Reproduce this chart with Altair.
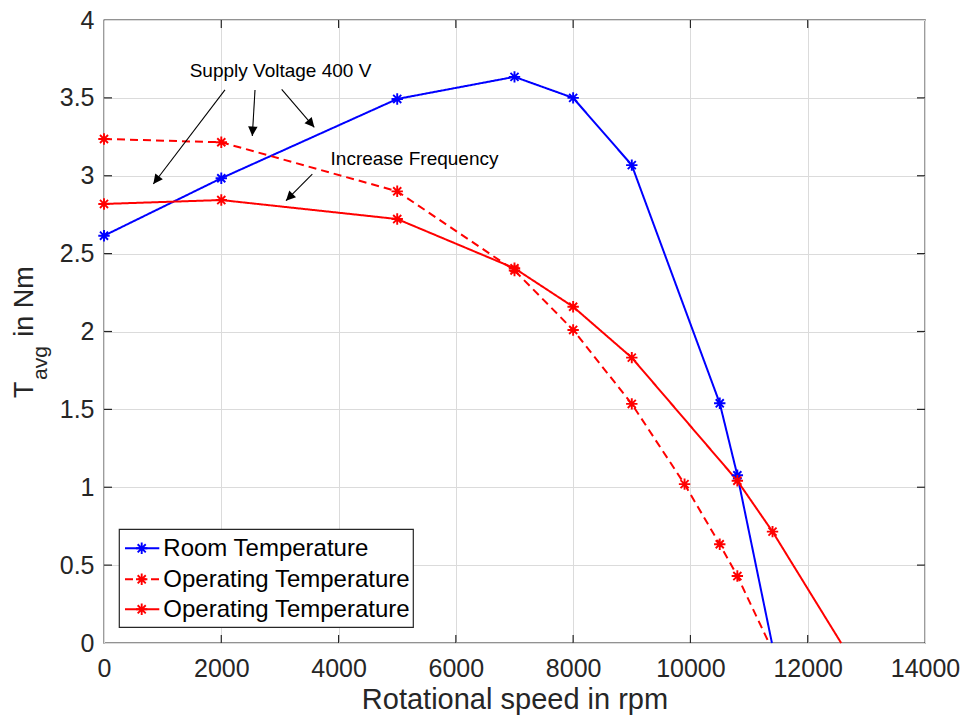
import altair as alt
import pandas as pd
import numpy as np

# ---------------- data ----------------
speed_room = [0, 2000, 5000, 7000, 8000, 9000, 10500, 10800, 11390]
torque_room = [2.615, 2.984, 3.493, 3.635, 3.500, 3.068, 1.539, 1.077, 0.0]

speed_op_dash = [0, 2000, 5000, 7000, 8000, 9000, 9900, 10500, 10800, 11340]
torque_op_dash = [3.236, 3.215, 2.900, 2.392, 2.010, 1.535, 1.020, 0.634, 0.430, 0.0]

speed_op = [0, 2000, 5000, 7000, 8000, 9000, 10800, 11400, 12570]
torque_op = [2.819, 2.844, 2.722, 2.406, 2.159, 1.832, 1.042, 0.715, 0.0]

series_keys = ["room", "op_dash", "op"]
series_labels = ["Room Temperature", "Operating Temperature", "Operating Temperature"]
series_colors = ["#0000ff", "#ff0000", "#ff0000"]

x_ticks = [0, 2000, 4000, 6000, 8000, 10000, 12000, 14000]
y_ticks = [0, 0.5, 1, 1.5, 2, 2.5, 3, 3.5, 4]

# annotations (data coordinates)
ann_text = ["Supply Voltage 400 V", "Increase Frequency"]
ann_x = [3010, 5295]
ann_y = [3.634, 3.069]

arrow_x = [2063, 2575, 3030, 3552]
arrow_y = [3.551, 3.551, 3.555, 3.011]
arrow_x2 = [841, 2529, 3586, 3103]
arrow_y2 = [2.947, 3.255, 3.311, 2.840]

# ---------------- layout ----------------
W, H = 821, 623
XMAX, YMAX = 14000, 4
FONT = "Liberation Sans"
AXC = "#262626"

STAR = "M-1,0L1,0M0,-1L0,1M-0.7071,-0.7071L0.7071,0.7071M-0.7071,0.7071L0.7071,-0.7071"
HEAD = "M0,0L-1,2L1,2Z"

frames = []
for k, xs, ys in zip(series_keys, [speed_room, speed_op_dash, speed_op],
                     [torque_room, torque_op_dash, torque_op]):
    frames.append(pd.DataFrame({"speed": xs, "torque": ys, "series": k}))
df = pd.concat(frames, ignore_index=True)

xscale = alt.Scale(domain=[0, XMAX], nice=False, zero=False)
yscale = alt.Scale(domain=[0, YMAX], nice=False, zero=False)

x_axis = alt.Axis(values=x_ticks, format="d", grid=True, gridColor="#dbdbdb", gridWidth=1,
                  domain=False, ticks=False, labelFont=FONT, labelFontSize=25,
                  labelColor=AXC, labelPadding=13, title="Rotational speed in rpm",
                  titleFont=FONT, titleFontSize=29, titleFontWeight="normal",
                  titleColor=AXC, titlePadding=4, labelFlush=False)
y_axis = alt.Axis(values=y_ticks, format=".1~f", grid=True, gridColor="#dbdbdb", gridWidth=1,
                  domain=False, ticks=False, labelFont=FONT, labelFontSize=25,
                  labelColor=AXC, labelPadding=10, title=None, labelFlush=False)

X = alt.X("speed:Q", scale=xscale, axis=x_axis)
Y = alt.Y("torque:Q", scale=yscale, axis=y_axis)

color = alt.Color("series:N", scale=alt.Scale(domain=series_keys, range=series_colors), legend=None)
dash = alt.StrokeDash("series:N", scale=alt.Scale(domain=series_keys, range=[[1, 0], [8, 5], [1, 0]]),
                      legend=None)

lines = alt.Chart(df).mark_line(strokeWidth=2).encode(x=X, y=Y, color=color, strokeDash=dash,
                                                       detail="series:N")
points = alt.Chart(df).transform_filter("datum.torque > 0").mark_point(
    shape=STAR, filled=False, size=130, strokeWidth=1.9, opacity=1
).encode(x=X, y=Y, color=color)

# inward ticks on all four sides
xt = pd.DataFrame({"speed": x_ticks[1:-1]})
yt = pd.DataFrame({"torque": y_ticks[1:-1]})
XT = alt.X("speed:Q", scale=xscale, axis=x_axis)
YT = alt.Y("torque:Q", scale=yscale, axis=y_axis)
tick_style = dict(color=AXC, strokeWidth=1.2)
tb = alt.Chart(xt).mark_rule(**tick_style).encode(x=XT, y=alt.value(H), y2=alt.value(H - 8))
tt = alt.Chart(xt).mark_rule(**tick_style).encode(x=XT, y=alt.value(0), y2=alt.value(8))
tl = alt.Chart(yt).mark_rule(**tick_style).encode(y=YT, x=alt.value(0), x2=alt.value(8))
tr = alt.Chart(yt).mark_rule(**tick_style).encode(y=YT, x=alt.value(W), x2=alt.value(W - 8))

# annotations
ann = pd.DataFrame({"speed": ann_x, "torque": ann_y, "label": ann_text})
ann_layer = alt.Chart(ann).mark_text(font=FONT, fontSize=19, align="center",
                                     baseline="alphabetic", color="black").encode(
    x=X, y=Y, text="label:N")

ar = pd.DataFrame({"speed": arrow_x, "torque": arrow_y, "speed2": arrow_x2, "torque2": arrow_y2})
dxp = (ar["speed2"] - ar["speed"]) * W / XMAX
dyp = -(ar["torque2"] - ar["torque"]) * H / YMAX
ar["angle"] = np.degrees(np.arctan2(dxp, -dyp)) % 360
arrow_lines = alt.Chart(ar).mark_rule(color="black", strokeWidth=1.1).encode(
    x=X, y=Y, x2="speed2:Q", y2="torque2:Q")
arrow_heads = alt.Chart(ar).mark_point(shape=HEAD, filled=True, size=90, color="black",
                                       opacity=1, strokeWidth=0).encode(
    x=alt.X("speed2:Q", scale=xscale, axis=x_axis),
    y=alt.Y("torque2:Q", scale=yscale, axis=y_axis),
    angle=alt.Angle("angle:Q", scale=None))

# y-axis title with subscript
dummy = pd.DataFrame({"a": [0]})
yt1 = alt.Chart(dummy).mark_text(font=FONT, fontSize=27, angle=270, align="left",
                                 baseline="alphabetic", color=AXC).encode(
    x=alt.value(-71), y=alt.value(378), text=alt.value("T"))
yt2 = alt.Chart(dummy).mark_text(font=FONT, fontSize=21, angle=270, align="left",
                                 baseline="alphabetic", color=AXC).encode(
    x=alt.value(-56.6), y=alt.value(360), text=alt.value("avg"))
yt3 = alt.Chart(dummy).mark_text(font=FONT, fontSize=27, angle=270, align="left",
                                 baseline="alphabetic", color=AXC).encode(
    x=alt.value(-71), y=alt.value(316.7), text=alt.value("in Nm"))

# legend
legend_box = alt.Chart(dummy).mark_rect(fill="white", stroke=AXC, strokeWidth=1.2).encode(
    x=alt.value(15.3), x2=alt.value(309.3), y=alt.value(509.3), y2=alt.value(607.3))
row_y = [528.3, 559.3, 589.3]
dashes = [[1, 0], [8, 5], [1, 0]]
legend_layers = [legend_box]
for i in range(3):
    legend_layers.append(alt.Chart(dummy).mark_rule(color=series_colors[i], strokeWidth=2,
                                                    strokeDash=dashes[i]).encode(
        x=alt.value(21), x2=alt.value(55.3), y=alt.value(row_y[i])))
    legend_layers.append(alt.Chart(dummy).mark_point(shape=STAR, filled=False, size=130,
                                                     strokeWidth=1.9, color=series_colors[i],
                                                     opacity=1).encode(
        x=alt.value(37.7), y=alt.value(row_y[i])))
    legend_layers.append(alt.Chart(dummy).mark_text(font=FONT, fontSize=24, align="left",
                                                    baseline="middle", color="black").encode(
        x=alt.value(59.3), y=alt.value(row_y[i] + 1), text=alt.value(series_labels[i])))

chart = alt.layer(
    lines, points, tb, tt, tl, tr, arrow_lines, arrow_heads, ann_layer,
    yt1, yt2, yt3, *legend_layers
).properties(
    width=W, height=H,
    autosize=alt.AutoSizeParams(type="none"),
    padding={"left": 104, "top": 20, "right": 43, "bottom": 81},
    background="white",
).configure_view(stroke=AXC, strokeWidth=1.3)

chart.save("out.html", embed_options={"renderer": "svg", "actions": False})
